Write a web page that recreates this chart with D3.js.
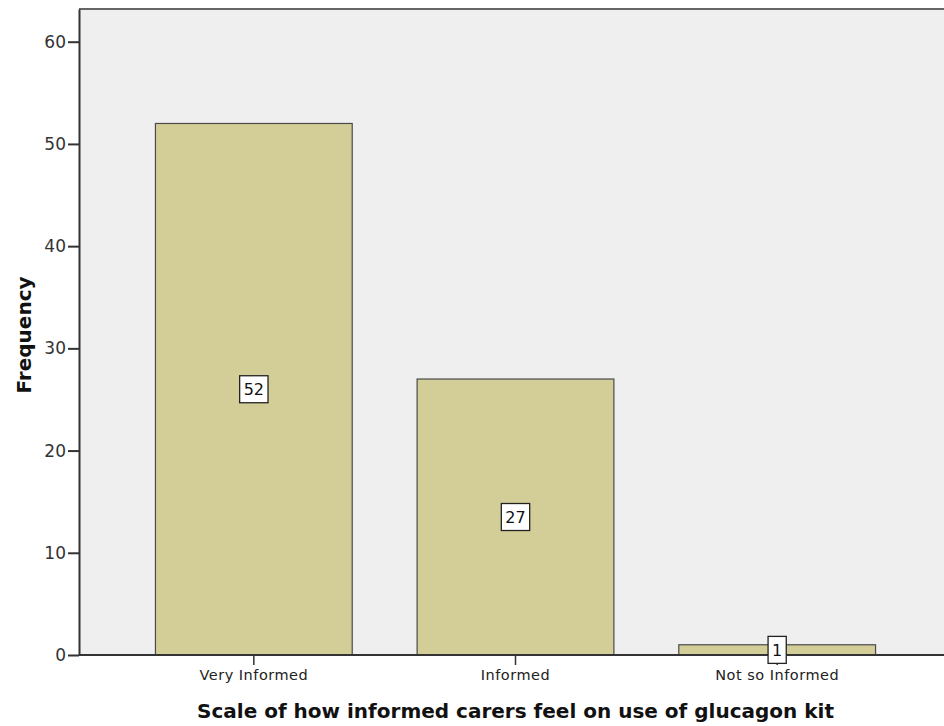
<!DOCTYPE html>
<html>
<head>
<meta charset="utf-8">
<script src="https://cdn.jsdelivr.net/npm/d3@7"></script>
<style>
  html, body { margin: 0; padding: 0; background: #fff; }
  svg { display: block; }
</style>
</head>
<body>
<svg id="chart" width="944" height="726"></svg>
<script>
// Frequency of carers by how informed they feel about using the glucagon kit
const categories = ["Very Informed", "Informed", "Not so Informed"];
const frequencies = [52, 27, 1];
const yTicks = [0, 10, 20, 30, 40, 50, 60];

const svg = d3.select("#chart");
const font = "'DejaVu Sans', Verdana, sans-serif";

const plot = { left: 79, right: 952, top: 9, bottom: 655 };

const x = d3.scaleBand()
  .domain(categories)
  .range([plot.left + 44, plot.right - 44])
  .paddingInner(0.248)
  .paddingOuter(0.124);

const y = d3.scaleLinear()
  .domain([0, 63.2])
  .range([plot.bottom, plot.top]);

// Plot background and frame
svg.append("rect")
  .attr("x", plot.left).attr("y", plot.top)
  .attr("width", plot.right - plot.left).attr("height", plot.bottom - plot.top)
  .attr("fill", "#efefef");
svg.append("line")
  .attr("x1", plot.left).attr("x2", plot.right)
  .attr("y1", plot.top).attr("y2", plot.top)
  .attr("stroke", "#666").attr("stroke-width", 2);

// Bars
svg.append("g").selectAll("rect")
  .data(categories)
  .join("rect")
  .attr("x", d => x(d))
  .attr("y", (d, i) => y(frequencies[i]))
  .attr("width", x.bandwidth())
  .attr("height", (d, i) => y(0) - y(frequencies[i]))
  .attr("fill", "#d3ce97")
  .attr("stroke", "#4a4a4a")
  .attr("stroke-width", 1.2);

// Y axis
const yAxis = svg.append("g")
  .attr("transform", `translate(${plot.left},0)`)
  .call(d3.axisLeft(y).tickValues(yTicks).tickSize(11).tickPadding(2).tickSizeOuter(0));
yAxis.select(".domain").attr("stroke", "#333").attr("stroke-width", 2);
yAxis.selectAll(".tick line").attr("stroke", "#333").attr("stroke-width", 2);
yAxis.selectAll(".tick text")
  .attr("font-family", font).attr("font-size", 17).attr("fill", "#333");

// X axis
const xAxis = svg.append("g")
  .attr("transform", `translate(0,${plot.bottom})`)
  .call(d3.axisBottom(x).tickSize(10).tickPadding(5).tickSizeOuter(0));
xAxis.select(".domain")
  .attr("d", `M${plot.left},0H${plot.right}`)
  .attr("stroke", "#333").attr("stroke-width", 2);
xAxis.selectAll(".tick line").attr("stroke", "#333").attr("stroke-width", 1.5);
xAxis.selectAll(".tick text")
  .attr("font-family", font).attr("font-size", 14.5).attr("letter-spacing", 0.5)
  .attr("fill", "#222");

// Value labels in boxes at the middle of each bar
const labels = svg.append("g").selectAll("g")
  .data(categories)
  .join("g")
  .attr("transform", (d, i) =>
    `translate(${x(d) + x.bandwidth() / 2},${(y(0) + y(frequencies[i])) / 2})`);
labels.each(function (d, i) {
  const g = d3.select(this);
  const t = g.append("text")
    .attr("text-anchor", "middle")
    .attr("dy", "0.36em")
    .attr("font-family", font)
    .attr("font-size", 16)
    .attr("fill", "#111")
    .text(frequencies[i]);
  const w = t.node().getComputedTextLength() + 8;
  g.insert("rect", "text")
    .attr("x", -w / 2).attr("y", -13.5)
    .attr("width", w).attr("height", 27)
    .attr("fill", "#fff")
    .attr("stroke", "#222").attr("stroke-width", 1.3);
});

// Axis titles
svg.append("text")
  .attr("x", (plot.left + plot.right) / 2).attr("y", 718)
  .attr("text-anchor", "middle")
  .attr("font-family", font).attr("font-size", 20).attr("font-weight", "bold")
  .attr("fill", "#111")
  .text("Scale of how informed carers feel on use of glucagon kit");

svg.append("text")
  .attr("transform", "translate(31,335) rotate(-90)")
  .attr("text-anchor", "middle")
  .attr("font-family", font).attr("font-size", 20).attr("font-weight", "bold")
  .attr("fill", "#111")
  .text("Frequency");
</script>
</body>
</html>
